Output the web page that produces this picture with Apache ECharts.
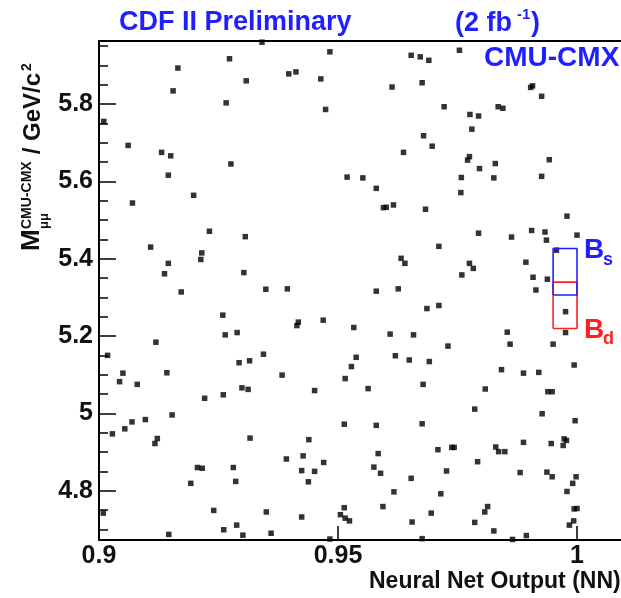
<!DOCTYPE html>
<html><head><meta charset="utf-8">
<script src="https://cdn.jsdelivr.net/npm/echarts@6/dist/echarts.min.js"></script>
<style>html,body{margin:0;padding:0;background:#fff}#c{width:621px;height:598px}</style>
</head><body><div id="c"></div><script>
// Events: [Neural Net Output, M_mumu (GeV/c^2)]
const events = [
[0.9341,5.960],[0.9273,5.917],[0.9165,5.893],[0.9308,5.860],[0.9155,5.834],[0.9266,5.803],[0.9010,5.755],[0.9061,5.693],[0.9131,5.675],[0.9150,5.666],
[0.9276,5.645],[0.9145,5.616],[0.9198,5.564],[0.9070,5.544],[0.9483,5.935],[0.9653,5.926],[0.9672,5.922],[0.9690,5.913],[0.9397,5.878],[0.9412,5.883],
[0.9464,5.865],[0.9613,5.844],[0.9676,5.855],[0.9474,5.786],[0.9679,5.718],[0.9697,5.691],[0.9637,5.675],[0.9519,5.611],[0.9552,5.609],[0.9580,5.582],
[0.9595,5.532],[0.9601,5.533],[0.9616,5.539],[0.9683,5.528],[0.9754,5.939],[0.9903,5.843],[0.9907,5.847],[0.9926,5.820],[0.9722,5.793],[0.9776,5.773],
[0.9794,5.769],[0.9835,5.793],[0.9845,5.789],[0.9780,5.735],[0.9775,5.664],[0.9771,5.655],[0.9796,5.633],[0.9829,5.646],[0.9942,5.656],[0.9758,5.610],
[0.9826,5.609],[0.9926,5.613],[0.9757,5.571],[0.9231,5.471],[0.9306,5.457],[0.9108,5.430],[0.9215,5.415],[0.9213,5.398],[0.9145,5.388],[0.9137,5.361],
[0.9303,5.364],[0.9349,5.321],[0.9172,5.314],[0.9259,5.254],[0.9264,5.203],[0.9289,5.209],[0.9119,5.184],[0.9018,5.150],[0.9344,5.153],[0.9293,5.131],
[0.9315,5.136],[0.9050,5.104],[0.9142,5.105],[0.9394,5.322],[0.9632,5.401],[0.9640,5.388],[0.9580,5.316],[0.9626,5.322],[0.9686,5.271],[0.9417,5.236],
[0.9414,5.227],[0.9469,5.241],[0.9533,5.222],[0.9609,5.205],[0.9658,5.203],[0.9538,5.145],[0.9620,5.149],[0.9649,5.138],[0.9691,5.134],[0.9528,5.121],
[0.9383,5.099],[0.9979,5.510],[0.9794,5.466],[0.9863,5.456],[0.9905,5.473],[0.9933,5.469],[0.9936,5.448],[1.0000,5.461],[0.9711,5.432],[0.9957,5.422],
[0.9775,5.388],[0.9783,5.375],[0.9759,5.358],[0.9893,5.391],[0.9908,5.352],[0.9938,5.347],[0.9914,5.319],[0.9711,5.279],[0.9976,5.263],[0.9854,5.210],
[0.9976,5.209],[0.9730,5.174],[0.9860,5.179],[0.9950,5.179],[0.9994,5.125],[0.9842,5.113],[0.9888,5.104],[0.9920,5.106],[0.9043,5.082],[0.9080,5.075],
[0.9299,5.066],[0.9312,5.062],[0.9260,5.048],[0.9221,5.039],[0.9153,4.996],[0.9097,4.984],[0.9069,4.978],[0.9054,4.960],[0.9028,4.947],[0.9122,4.935],
[0.9117,4.922],[0.9316,4.936],[0.9206,4.860],[0.9216,4.858],[0.9281,4.860],[0.9286,4.824],[0.9192,4.819],[0.9009,4.742],[0.9240,4.749],[0.9350,4.745],
[0.9288,4.711],[0.9261,4.699],[0.9301,4.685],[0.9146,4.687],[0.9515,5.090],[0.9451,5.059],[0.9563,5.064],[0.9678,5.075],[0.9513,4.972],[0.9580,4.969],
[0.9676,4.973],[0.9439,4.932],[0.9392,4.882],[0.9427,4.890],[0.9470,4.873],[0.9584,4.896],[0.9424,4.852],[0.9451,4.850],[0.9438,4.823],[0.9575,4.861],
[0.9589,4.845],[0.9653,4.832],[0.9617,4.797],[0.9424,4.732],[0.9513,4.756],[0.9505,4.738],[0.9515,4.729],[0.9524,4.722],[0.9594,4.759],[0.9655,4.719],
[0.9695,4.742],[0.9360,4.690],[0.9483,4.675],[0.9676,4.676],[0.9808,5.063],[0.9939,5.056],[0.9948,5.056],[0.9786,5.011],[0.9927,4.999],[0.9996,4.981],
[0.9709,4.906],[0.9738,4.912],[0.9743,4.912],[0.9830,4.913],[0.9836,4.901],[0.9849,4.901],[0.9888,4.925],[0.9946,4.922],[0.9973,4.934],[0.9978,4.930],
[0.9971,4.917],[0.9792,4.875],[0.9727,4.851],[0.9881,4.847],[0.9937,4.848],[0.9948,4.836],[0.9998,4.836],[0.9991,4.819],[0.9979,4.798],[0.9715,4.792],
[0.9813,4.759],[0.9807,4.745],[0.9994,4.753],[1.0000,4.754],[0.9786,4.718],[0.9993,4.722],[0.9984,4.711],[0.9826,4.696],[0.9894,4.684],[0.9865,4.674]
];
// Signal windows: NN range and mass range
const bsNN = [0.995, 1.0];
const bsMass = [5.3063, 5.4263];
const bdNN = [0.995, 1.0];
const bdMass = [5.2195, 5.3395];
const xTicks = [0.9, 0.95, 1];
const yTicks = [4.8, 5, 5.2, 5.4, 5.6, 5.8];
const yMinorTicks = [4.7, 4.75, 4.85, 4.9, 4.95, 5.05, 5.1, 5.15, 5.25, 5.3, 5.35, 5.45, 5.5, 5.55, 5.65, 5.7, 5.75, 5.85, 5.9, 5.95];

const X_MIN = 0.9, X_MAX = 1.0092, Y_MIN = 4.6725, Y_MAX = 5.963;
function boxPath(nn, m) {
  return [[nn[0], m[0]], [nn[1], m[0]], [nn[1], m[1]], [nn[0], m[1]], [nn[0], m[0]]];
}
const FONT = 'Liberation Sans, Arial, sans-serif';
const BLUE = '#1f1fff', RED = '#ff1f1f';
const chart = echarts.init(document.getElementById('c'));
const axisLineStyle = { color: '#000', width: 2 };
chart.setOption({
  animation: false,
  backgroundColor: '#fff',
  grid: { left: 99, right: 0, top: 41, bottom: 58, containLabel: false },
  xAxis: [
    { type: 'value', min: X_MIN, max: X_MAX, position: 'bottom',
      axisLine: { show: true, onZero: false, lineStyle: axisLineStyle },
      axisTick: { show: true, inside: true, length: 14, customValues: xTicks, lineStyle: { color: '#000', width: 1.5 } },
      axisLabel: { customValues: xTicks, fontSize: 25, fontWeight: 'bold', color: '#111', fontFamily: FONT, margin: 4 },
      splitLine: { show: false } },
    { type: 'value', min: X_MIN, max: X_MAX, position: 'top',
      axisLine: { show: true, onZero: false, lineStyle: axisLineStyle },
      axisTick: { show: false }, axisLabel: { show: false }, splitLine: { show: false } }
  ],
  yAxis: [
    { type: 'value', min: Y_MIN, max: Y_MAX, position: 'left',
      axisLine: { show: true, onZero: false, lineStyle: axisLineStyle },
      axisTick: { show: true, inside: true, length: 17, customValues: yTicks, lineStyle: { color: '#000', width: 1.5 } },
      axisLabel: { customValues: yTicks, fontSize: 25, fontWeight: 'bold', color: '#111', fontFamily: FONT, margin: 6 },
      splitLine: { show: false } },
    { type: 'value', min: Y_MIN, max: Y_MAX, position: 'left',
      axisLine: { show: false },
      axisTick: { show: true, inside: true, length: 9, customValues: yMinorTicks, lineStyle: { color: '#000', width: 1.5 } },
      axisLabel: { show: false }, splitLine: { show: false } }
  ],
  series: [
    { type: 'scatter', data: events, symbol: 'rect', symbolSize: 5.5, itemStyle: { color: '#000' }, silent: true, z: 3 },
    { type: 'line', data: boxPath(bdNN, bdMass), symbol: 'none', lineStyle: { color: RED, width: 1.6 }, z: 4, silent: true },
    { type: 'line', data: boxPath(bsNN, bsMass), symbol: 'none', lineStyle: { color: BLUE, width: 1.6 }, z: 5, silent: true }
  ],
  graphic: [
    { type: 'text', left: 119, top: 9, style: { text: 'CDF II Preliminary', fill: BLUE, font: 'bold 27px ' + FONT } },
    { type: 'group', left: 455, top: 7, children: [
      { type: 'text', x: 0, y: 3, style: { text: '(2 fb', fill: BLUE, font: 'bold 27px ' + FONT } },
      { type: 'text', x: 62, y: 0, style: { text: '-1', fill: BLUE, font: 'bold 15px ' + FONT } },
      { type: 'text', x: 76, y: 3, style: { text: ')', fill: BLUE, font: 'bold 27px ' + FONT } }
    ] },
    { type: 'text', left: 484, top: 44, style: { text: 'CMU-CMX', fill: BLUE, font: 'bold 28px ' + FONT } },
    { type: 'text', left: 584, top: 236, style: { text: 'B', fill: BLUE, font: 'bold 28px ' + FONT } },
    { type: 'text', left: 603, top: 251, style: { text: 's', fill: BLUE, font: 'bold 18px ' + FONT } },
    { type: 'text', left: 584, top: 316, style: { text: 'B', fill: RED, font: 'bold 28px ' + FONT } },
    { type: 'text', left: 603, top: 330, style: { text: 'd', fill: RED, font: 'bold 18px ' + FONT } },
    { type: 'text', left: 369, top: 570, style: { text: 'Neural Net Output (NN)', fill: '#111', font: 'bold 23px ' + FONT } },
    { type: 'group', x: 45, y: 251, rotation: Math.PI / 2, children: [
      { type: 'text', x: 0, y: 0, style: { text: 'M', fill: '#111', font: 'bold 26px ' + FONT, textVerticalAlign: 'bottom' } },
      { type: 'text', x: 22, y: 6, style: { text: 'μμ', fill: '#111', font: 'bold 13px ' + FONT, textVerticalAlign: 'bottom' } },
      { type: 'text', x: 22, y: -11, style: { text: 'CMU-CMX', fill: '#111', font: 'bold 14px ' + FONT, textVerticalAlign: 'bottom' } },
      { type: 'text', x: 90, y: 0, style: { text: ' / GeV/c', fill: '#111', font: 'bold 24px ' + FONT, textVerticalAlign: 'bottom' } },
      { type: 'text', x: 180, y: -11, style: { text: '2', fill: '#111', font: 'bold 14px ' + FONT, textVerticalAlign: 'bottom' } }
    ] }
  ]
});
</script></body></html>
